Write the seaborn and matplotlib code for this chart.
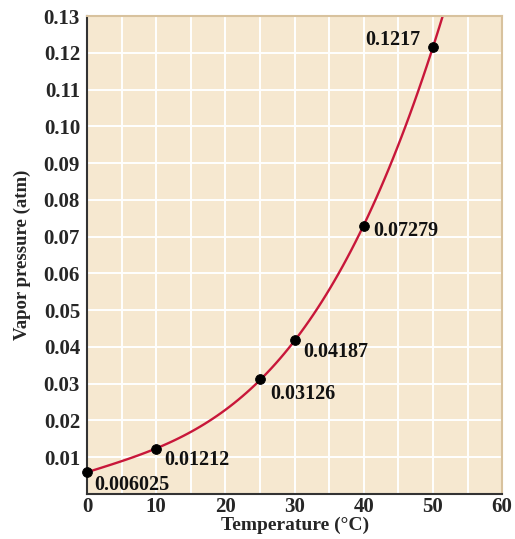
import seaborn as sns
import matplotlib.pyplot as plt
import pandas as pd

# Vapor pressure of water
temps = [0, 10, 25, 30, 40, 50]
pressures = [0.006025, 0.01212, 0.03126, 0.04187, 0.07279, 0.1217]
labels = ["0.006025", "0.01212", "0.03126", "0.04187", "0.07279", "0.1217"]
# label offsets in pixels (dx, dy) and horizontal alignment
offsets = [(7, -13, "left"), (8, -11, "left"), (10, -15, "left"),
           (9, -12, "left"), (9, -5, "left"), (-13, 7, "right")]

df = pd.DataFrame({"temp": temps, "pressure": pressures})

sns.set_style("white")
plt.rcParams["font.family"] = ["Liberation Serif", "DejaVu Serif"]
plt.rcParams["font.weight"] = "bold"

fig = plt.figure(figsize=(5.15, 5.39), dpi=100)
ax = fig.add_axes([0.169, 0.0835, 0.806, 0.8865])
ax.set_facecolor("#F6E8D0")

ax.set_xlim(0, 60)
ax.set_ylim(0, 0.13)
ax.set_yticks([i / 100 for i in range(0, 14)])
ax.grid(True, color="white", lw=1.4)
ax.set_axisbelow(True)

# smooth curve through the points
sns.regplot(data=df, x="temp", y="pressure", order=3, ci=None, truncate=False,
            scatter=False, line_kws={"color": "#C8173A", "lw": 1.7}, ax=ax)
sns.scatterplot(data=df, x="temp", y="pressure", color="black", s=50,
                edgecolor="black", zorder=5, clip_on=False, ax=ax)

for t, p, lab, (dx, dy, ha) in zip(temps, pressures, labels, offsets):
    ax.annotate(lab, (t, p), xytext=(dx, dy), textcoords="offset pixels",
                ha=ha, va="center", fontsize=14.5, fontweight="bold", color="#111111")

ax.set_xticks(range(0, 61, 5))
ax.set_xticklabels([str(v) if v % 10 == 0 else "" for v in range(0, 61, 5)])
ax.set_yticklabels(["" if v == 0 else f"{v/100:.2f}" for v in range(0, 14)])
ax.tick_params(length=0, labelsize=15)
ax.tick_params(axis="y", pad=5)
ax.tick_params(axis="x", pad=2)
for lab in ax.get_xticklabels() + ax.get_yticklabels():
    lab.set_fontweight("bold")

ax.set_xlabel("Temperature (°C)", fontsize=14, fontweight="bold", labelpad=0)
ax.set_ylabel("Vapor pressure (atm)", fontsize=13.5, fontweight="bold", labelpad=9)

for side in ["left", "bottom"]:
    ax.spines[side].set_color("#333333")
    ax.spines[side].set_linewidth(1.5)
for side in ["top", "right"]:
    ax.spines[side].set_color("#D8C29E")
    ax.spines[side].set_linewidth(1.5)

fig.savefig("out.png", dpi=100)
